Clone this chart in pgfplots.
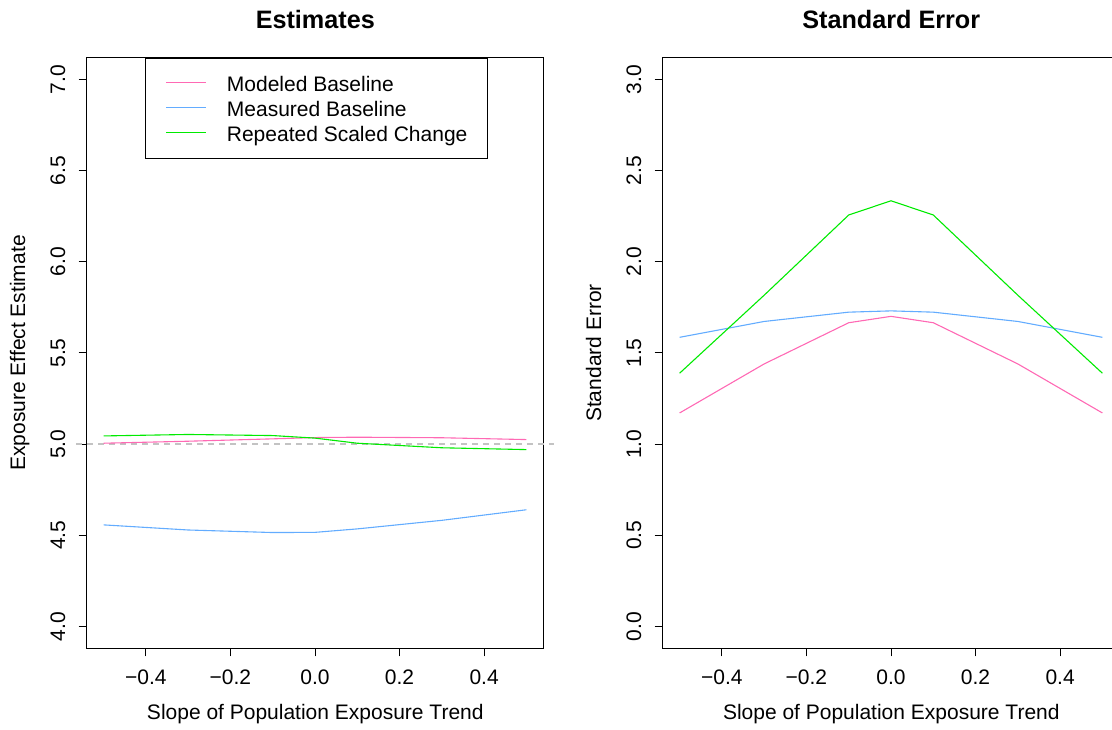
\documentclass[border=0pt]{standalone}
\usepackage{fontspec}
\setmainfont{Liberation Sans}
\usepackage{pgfplots}
\pgfplotsset{compat=1.18}

\definecolor{colModeled}{RGB}{255,105,180}
\definecolor{colMeasured}{RGB}{99,172,255}
\definecolor{colRepeated}{RGB}{0,235,0}
\definecolor{refgray}{RGB}{195,195,195}

\pgfplotsset{
  rpanel/.style={
    scale only axis, width=456.6pt, height=590.6pt, anchor=south west,
    xmin=-0.54, xmax=0.54,
    tick pos=left, tick align=outside, major tick length=8pt,
    axis line style={line width=1pt, black},
    tick style={line width=1pt, black},
    xtick={-0.4,-0.2,0,0.2,0.4},
    xticklabels={−0.4,−0.2,0.0,0.2,0.4},
    xticklabel style={anchor=base, inner sep=0pt, yshift=-28.2pt},
    yticklabel style={xshift=-13.7pt, rotate=90, anchor=base, inner sep=0pt},
    clip=false,
    font=\fontsize{21}{25}\selectfont,
    every axis plot/.append style={line width=1.1pt},
  }
}

\begin{document}
\begin{tikzpicture}[font=\fontsize{21}{25}\selectfont]
\useasboundingbox (0,0) rectangle (1112pt,730pt);

% Estimates
\begin{axis}[rpanel, at={(86.7pt,81.7pt)},
  ymin=3.88, ymax=7.12,
  ytick={4,4.5,5,5.5,6,6.5,7},
  yticklabels={4.0,4.5,5.0,5.5,6.0,6.5,7.0},
  legend cell align=left,
  legend style={at={(0.1277,1)}, anchor=north west, draw=black, line width=1pt,
    fill=white, inner xsep=20pt, inner ysep=12.5pt, row sep=0pt, column sep=20pt,
    nodes={inner sep=0pt, text height=20.5pt, text depth=4.5pt},
    font=\fontsize{21}{25}\selectfont},
  legend image code/.code={\draw[#1, line width=1.4pt] (0pt,0.5pt) -- (40pt,0.5pt);},
]
\addplot[color=refgray, line width=1.3pt, dash pattern=on 6pt off 5pt, forget plot]
  coordinates {(-0.565,5) (0.565,5)};
\addplot[color=colModeled] coordinates {
  (-0.5,5.005) (-0.3,5.016) (-0.1,5.029) (0,5.036) (0.1,5.038) (0.3,5.035) (0.5,5.025)};
\addlegendentry{Modeled Baseline}
\addplot[color=colMeasured] coordinates {
  (-0.5,4.557) (-0.3,4.529) (-0.1,4.515) (0,4.516) (0.1,4.535) (0.3,4.582) (0.5,4.640)};
\addlegendentry{Measured Baseline}
\addplot[color=colRepeated] coordinates {
  (-0.5,5.045) (-0.3,5.053) (-0.1,5.047) (0,5.033) (0.1,5.005) (0.3,4.980) (0.5,4.970)};
\addlegendentry{Repeated Scaled Change}
\end{axis}

% Standard Error
\begin{axis}[rpanel, at={(662.7pt,81.7pt)},
  ymin=-0.12, ymax=3.12,
  ytick={0,0.5,1,1.5,2,2.5,3},
  yticklabels={0.0,0.5,1.0,1.5,2.0,2.5,3.0},
]
\addplot[color=colModeled] coordinates {
  (-0.5,1.171) (-0.3,1.440) (-0.1,1.666) (0,1.701) (0.1,1.666) (0.3,1.440) (0.5,1.171)};
\addplot[color=colMeasured] coordinates {
  (-0.5,1.586) (-0.3,1.673) (-0.1,1.724) (0,1.731) (0.1,1.724) (0.3,1.673) (0.5,1.586)};
\addplot[color=colRepeated] coordinates {
  (-0.5,1.389) (-0.3,1.817) (-0.1,2.257) (0,2.335) (0.1,2.257) (0.3,1.817) (0.5,1.389)};
\end{axis}

% titles and axis labels
\node[font=\bfseries\fontsize{25.2}{30}\selectfont, anchor=base] at (315.3pt,701.7pt) {Estimates};
\node[font=\bfseries\fontsize{25.2}{30}\selectfont, anchor=base] at (891.3pt,701.7pt) {Standard Error};
\node[anchor=base] at (315.3pt,10pt) {Slope of Population Exposure Trend};
\node[anchor=base] at (891.3pt,10pt) {Slope of Population Exposure Trend};
\node[rotate=90, anchor=base] at (25pt,377pt) {Exposure Effect Estimate};
\node[rotate=90, anchor=base] at (601pt,377pt) {Standard Error};
\end{tikzpicture}
\end{document}
